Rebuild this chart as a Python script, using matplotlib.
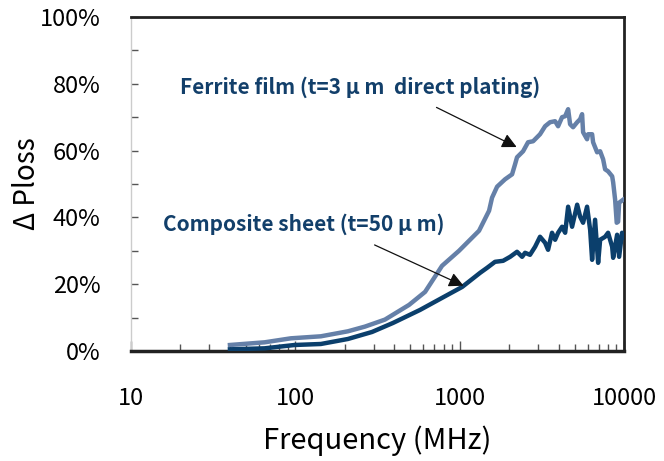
import matplotlib
matplotlib.use("Agg")
import matplotlib.pyplot as plt
from matplotlib.ticker import FixedLocator, LogLocator, NullFormatter, FuncFormatter

plt.rcParams['font.family'] = ['Noto Sans CJK JP', 'DejaVu Sans']

# Ferrite film (t=3 um, direct plating)
ferrite_freq = [40, 65, 94, 143, 209, 265, 351, 492, 616, 781, 991, 1312, 1510,
                1574, 1690, 1888, 2084, 2173, 2234, 2432, 2607, 2798, 3084, 3311,
                3548, 3808, 3972, 4199, 4385, 4571, 4699, 4900, 5188, 5408, 5559,
                5637, 5960, 6050, 6397, 6486, 6860, 7158, 7464, 7674, 8000, 8472,
                8590, 8830, 9030, 9210, 9340, 9880]
ferrite_val = [1.8, 2.6, 3.8, 4.4, 5.9, 7.3, 9.4, 13.8, 17.7, 25.5, 30.0, 36.0, 42.0,
               45.9, 49.2, 51.4, 52.9, 55.9, 58.0, 59.8, 62.5, 62.8, 64.9, 67.3,
               68.5, 68.8, 67.3, 70.0, 70.3, 72.4, 67.9, 67.0, 68.5, 69.4, 70.9,
               65.5, 63.4, 64.9, 64.9, 62.5, 59.5, 59.8, 57.4, 54.4, 53.8, 52.3,
               50.5, 45.3, 38.4, 38.7, 44.4, 45.3]

# Composite sheet (t=50 um)
comp_freq = [40, 65, 99, 143, 209, 293, 393, 574, 781, 1037, 1331, 1468, 1641, 1837,
             2028, 2234, 2399, 2500, 2679, 2877, 3084, 3311, 3451, 3648, 3808, 3972,
             4199, 4385, 4571, 4831, 5188, 5408, 5637, 5960, 6223, 6397, 6668, 6960,
             7158, 7674, 8000, 8472, 8590, 9080, 9340, 9730, 10000]
comp_val = [0.5, 0.8, 1.8, 2.1, 3.6, 5.7, 8.4, 12.3, 15.9, 19.2, 23.4, 24.9, 26.7, 27.0,
            28.2, 29.7, 28.2, 29.4, 28.8, 31.2, 34.2, 32.4, 30.3, 35.4, 33.3, 35.4,
            37.2, 35.4, 43.2, 37.2, 43.8, 40.2, 38.4, 43.2, 36.3, 27.3, 39.3, 26.4,
            33.3, 34.2, 35.4, 31.2, 27.9, 34.8, 28.2, 35.4, 34.2]

x_ticks = [10, 100, 1000, 10000]
x_tick_labels = ['10', '100', '1000', '10000']
y_ticks = [0, 20, 40, 60, 80, 100]

fig = plt.figure(figsize=(6.64, 4.61), dpi=100)
ax = fig.add_axes([131/664, 1 - 351/461, (624-131)/664, (351-17)/461])

ax.plot(ferrite_freq, ferrite_val, color='#6580a8', lw=3.2, solid_joinstyle='round', zorder=3)
ax.plot(comp_freq, comp_val, color='#0b3f6c', lw=3.2, solid_joinstyle='round', zorder=4)

ax.set_xscale('log')
ax.set_xlim(10, 10000)
ax.set_ylim(0, 100)

ax.xaxis.set_major_locator(FixedLocator(x_ticks))
ax.set_xticklabels(x_tick_labels)
ax.xaxis.set_minor_locator(LogLocator(base=10, subs=range(2, 10)))
ax.xaxis.set_minor_formatter(NullFormatter())
ax.tick_params(axis='x', which='major', direction='in', length=7, width=1, color='#555555',
               pad=26, labelsize=17)
ax.tick_params(axis='x', which='minor', direction='in', length=5, width=1, color='#555555')

ax.set_yticks(y_ticks)
ax.yaxis.set_major_formatter(FuncFormatter(lambda v, p: f'{int(v)}%'))
ax.set_yticks(list(range(10, 100, 20)), minor=True)
ax.tick_params(axis='y', which='both', direction='in', length=5, width=1, color='#555555',
               pad=22, labelsize=17)

for s in ['top', 'right']:
    ax.spines[s].set_color('#222222')
    ax.spines[s].set_linewidth(2)
ax.spines['bottom'].set_color('#222222')
ax.spines['bottom'].set_linewidth(2.5)
ax.spines['left'].set_color('#cccccc')
ax.spines['left'].set_linewidth(1)

ax.set_xlabel('Frequency (MHz)', fontsize=21, labelpad=11)
ax.set_ylabel('Δ Ploss', fontsize=20)
ax.yaxis.set_label_coords(-0.18, 0.5)

txt_color = '#123f6a'
ax.text(19.9, 79, 'Ferrite film (t=3 μ m  direct plating)', fontsize=15,
        fontweight='bold', color=txt_color, va='center', ha='left')
ax.text(15.7, 38.1, 'Composite sheet (t=50 μ m)', fontsize=15,
        fontweight='bold', color=txt_color, va='center', ha='left')

ax.annotate('', xy=(2301, 60.7), xytext=(698, 73.3),
            arrowprops=dict(arrowstyle='-|>', color='#111111', lw=0.9, mutation_scale=22),
            zorder=5)
ax.annotate('', xy=(1094, 19.2), xytext=(293, 32.1),
            arrowprops=dict(arrowstyle='-|>', color='#111111', lw=0.9, mutation_scale=22),
            zorder=5)

fig.savefig('out.png', dpi=100)
